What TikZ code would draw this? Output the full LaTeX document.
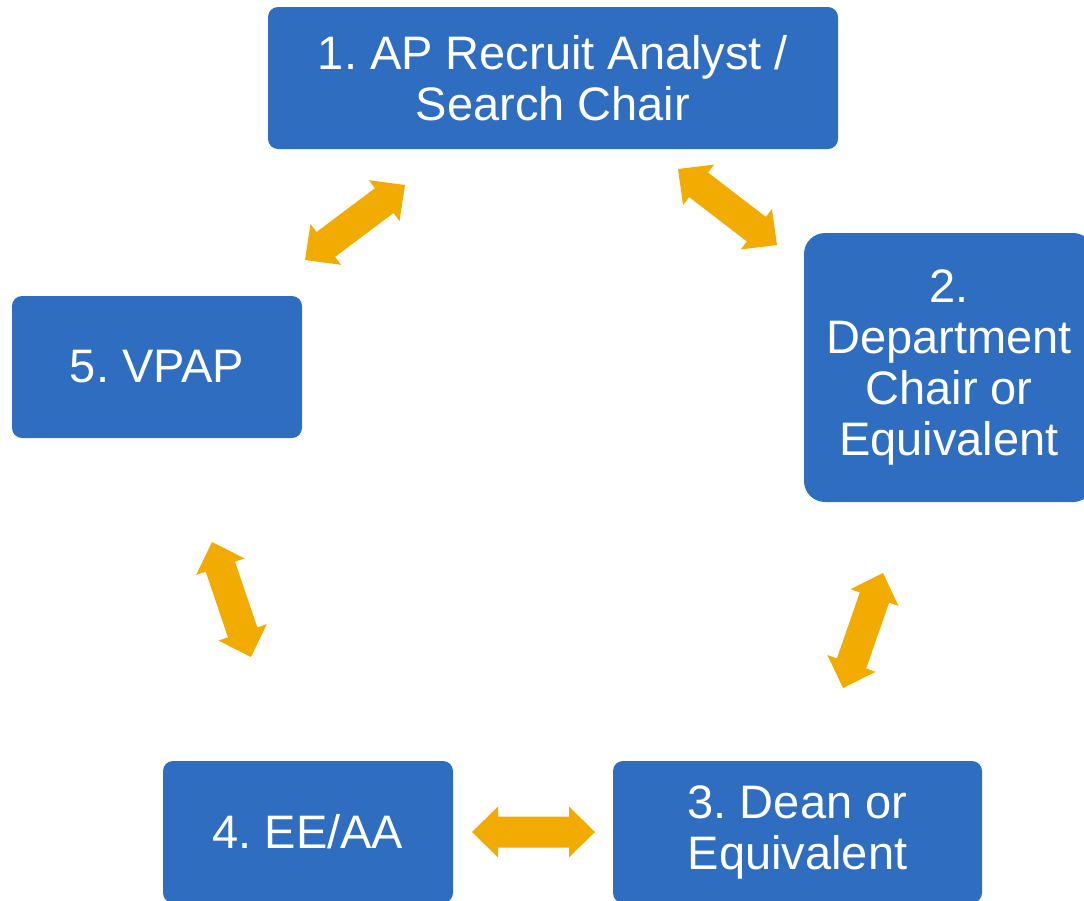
\documentclass[tikz,border=0pt]{standalone}
\usepackage{fontspec}
\setmainfont{Liberation Sans}
\usetikzlibrary{calc}
\frenchspacing
\definecolor{boxblue}{HTML}{2F6DC1}
\definecolor{arrorange}{HTML}{F2AB00}
\newcommand\DArrow[2]{%
  \coordinate (da1) at ($(#1)!26pt!(#2)$);
  \coordinate (da2) at ($(#2)!26pt!(#1)$);
  \fill[arrowfill] (#1) -- ($(da1)!25.5pt!90:(#2)$) -- ($(da1)!15.5pt!90:(#2)$)
    -- ($(da2)!15.5pt!-90:(#1)$) -- ($(da2)!25.5pt!-90:(#1)$) -- (#2)
    -- ($(da2)!25.5pt!90:(#1)$) -- ($(da2)!15.5pt!90:(#1)$)
    -- ($(da1)!15.5pt!-90:(#2)$) -- ($(da1)!25.5pt!-90:(#2)$) -- cycle;}
\tikzset{
  stagebox/.style={rectangle, fill=boxblue, text=white, inner sep=0pt,
    align=center, font=\fontsize{47}{51}\selectfont\frenchspacing, rounded corners=10pt},
  arrowfill/.style={fill=arrorange}
}
\begin{document}
\begin{tikzpicture}[x=1pt,y=-1pt]
\useasboundingbox (0,0) rectangle (1084,900);
\clip (0,0) rectangle (1084,900);
\node[stagebox, minimum width=570pt, minimum height=142pt] (s1) at (553,78) {1. AP Recruit Analyst /\\Search Chair};
\node[stagebox, minimum width=290pt, minimum height=269pt, rounded corners=21pt] (s2) at (949,367.5) {2.\\Department\\Chair or\\Equivalent};
\node[stagebox, minimum width=369pt, minimum height=142pt] (s3) at (797.5,832) {3. Dean or\\Equivalent};
\node[stagebox, minimum width=290pt, minimum height=142pt] (s4) at (308,832) {4. EE/AA};
\node[stagebox, minimum width=290pt, minimum height=142pt] (s5) at (157,367) {5. VPAP};
\coordinate (a15a) at (305,260);
\coordinate (a15b) at (405,185);
\coordinate (a12a) at (678,169);
\coordinate (a12b) at (777,245);
\coordinate (a23a) at (883,573);
\coordinate (a23b) at (843,688);
\coordinate (a34a) at (472,832);
\coordinate (a34b) at (595,832);
\coordinate (a45a) at (212,542);
\coordinate (a45b) at (251,657);
\DArrow{a15a}{a15b}
\DArrow{a12a}{a12b}
\DArrow{a23a}{a23b}
\DArrow{a34a}{a34b}
\DArrow{a45a}{a45b}
\end{tikzpicture}
\end{document}
